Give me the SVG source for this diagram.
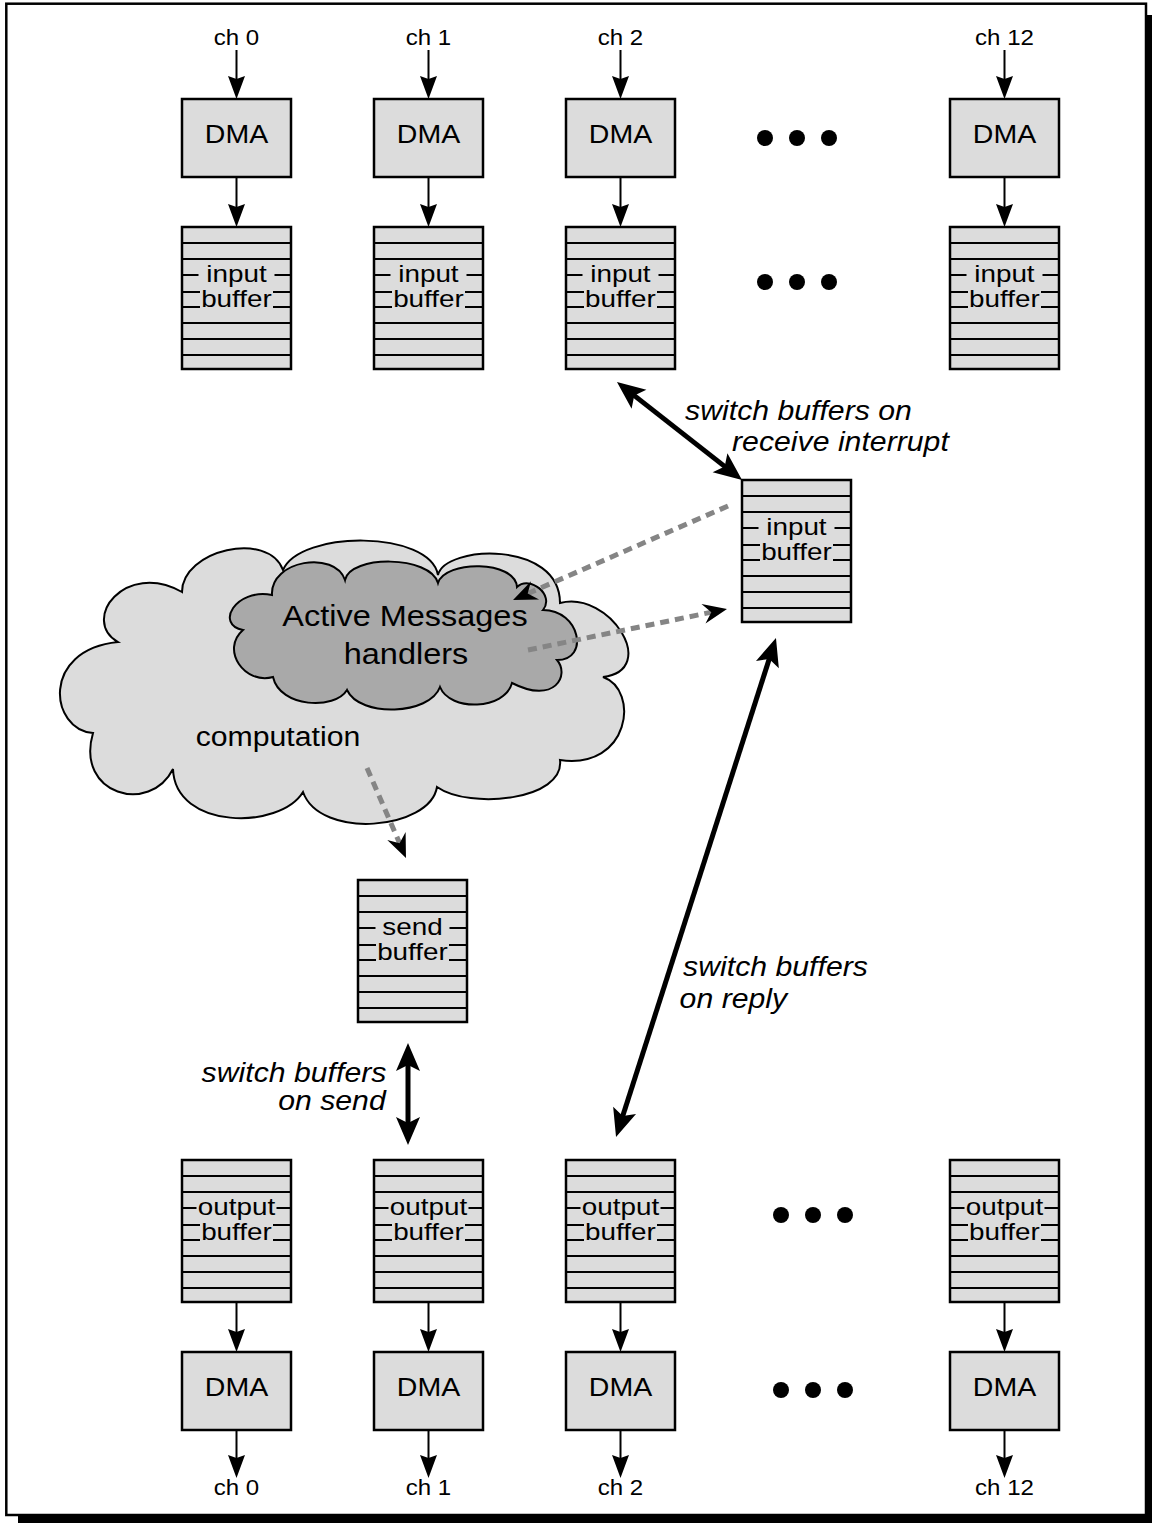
<svg xmlns="http://www.w3.org/2000/svg" xmlns:xlink="http://www.w3.org/1999/xlink" width="1152" height="1523" viewBox="0 0 1152 1523">
  <style>
    text { font-family: "Liberation Sans", Arial, Helvetica, sans-serif; fill: #000; text-anchor: middle;
           transform-box: fill-box; transform-origin: center; transform: scaleX(1.12); }
    .ch { font-size: 21.5px; }
    .dma { font-size: 25.5px; }
    .bl { font-size: 24px; transform: scaleX(1.16); }
    .it { font-size: 27px; font-style: italic; }
    .cl { font-size: 29px; }
    .cp { font-size: 27px; }
    .box { fill: #dcdcdc; stroke: #000; stroke-width: 2.5; }
    .rule { fill: none; stroke: #000; stroke-width: 2; }
    .lblbg { fill: #dcdcdc; stroke: none; }
    .thin { fill: none; stroke: #000; stroke-width: 2; marker-end: url(#ah); }
    .thick { fill: none; stroke: #000; stroke-width: 5; marker-start: url(#ahBig); marker-end: url(#ahBig); }
    .dash { fill: none; stroke: #858585; stroke-width: 5; stroke-dasharray: 9 6; marker-end: url(#ahDash); }
    .dot { fill: #000; }
  </style>
  <defs>
    <marker id="ah" markerUnits="userSpaceOnUse" viewBox="-20 -10 28 20" refX="0" refY="0" markerWidth="28" markerHeight="20" orient="auto" overflow="visible">
      <path d="M6,0 L-17,-8.5 L-14,0 L-17,8.5 Z" fill="#000"/>
    </marker>
    <marker id="ahBig" markerUnits="userSpaceOnUse" viewBox="-20 -14 34 28" refX="0" refY="0" markerWidth="34" markerHeight="28" orient="auto-start-reverse" overflow="visible">
      <path d="M12,0 L-16,-12 L-10,0 L-16,12 Z" fill="#000"/>
    </marker>
    <marker id="ahDash" markerUnits="userSpaceOnUse" viewBox="-16 -12 28 24" refX="0" refY="0" markerWidth="28" markerHeight="24" orient="auto" overflow="visible">
      <path d="M10,0 L-14,-10 L-6,0 L-14,10 Z" fill="#000"/>
    </marker>
    <!-- striped buffer body, 109 x 142 -->
    <g id="bufgrid">
      <rect class="box" x="0" y="0" width="109" height="142"/>
      <path class="rule" d="M1,16H108M1,32H108M1,48H108M1,65H108M1,80H108M1,96H108M1,112H108M1,128H108"/>
    </g>
    <rect id="dmabox" class="box" x="0" y="0" width="109" height="78"/>
  </defs>

  <!-- page frame with drop shadow -->
  <rect x="0" y="0" width="1152" height="1523" fill="#fff"/>
  <rect x="18" y="15" width="1140" height="1520" fill="#000"/>
  <rect x="6.3" y="3.7" width="1139.7" height="1511.3" fill="#fff" stroke="#000" stroke-width="2.5"/>

  <!-- receive side: DMA engines -->
  <g id="dma-in-0"><use xlink:href="#dmabox" x="182" y="99"/><text class="dma" x="236.5" y="143">DMA</text></g>
  <g id="dma-in-1"><use xlink:href="#dmabox" x="374" y="99"/><text class="dma" x="428.5" y="143">DMA</text></g>
  <g id="dma-in-2"><use xlink:href="#dmabox" x="566" y="99"/><text class="dma" x="620.5" y="143">DMA</text></g>
  <g id="dma-in-12"><use xlink:href="#dmabox" x="950" y="99"/><text class="dma" x="1004.5" y="143">DMA</text></g>

  <!-- receive side: input buffers -->
  <g id="ibuf-0">
    <use xlink:href="#bufgrid" x="182" y="227"/>
    <rect class="lblbg" x="198.5" y="262" width="76" height="25"/><rect class="lblbg" x="200" y="288" width="73" height="23"/>
    <text class="bl" x="236.5" y="282">input</text><text class="bl" x="236.5" y="307">buffer</text>
  </g>
  <g id="ibuf-1">
    <use xlink:href="#bufgrid" x="374" y="227"/>
    <rect class="lblbg" x="390.5" y="262" width="76" height="25"/><rect class="lblbg" x="392" y="288" width="73" height="23"/>
    <text class="bl" x="428.5" y="282">input</text><text class="bl" x="428.5" y="307">buffer</text>
  </g>
  <g id="ibuf-2">
    <use xlink:href="#bufgrid" x="566" y="227"/>
    <rect class="lblbg" x="582.5" y="262" width="76" height="25"/><rect class="lblbg" x="584" y="288" width="73" height="23"/>
    <text class="bl" x="620.5" y="282">input</text><text class="bl" x="620.5" y="307">buffer</text>
  </g>
  <g id="ibuf-12">
    <use xlink:href="#bufgrid" x="950" y="227"/>
    <rect class="lblbg" x="966.5" y="262" width="76" height="25"/><rect class="lblbg" x="968" y="288" width="73" height="23"/>
    <text class="bl" x="1004.5" y="282">input</text><text class="bl" x="1004.5" y="307">buffer</text>
  </g>

  <g id="dots-top" class="dot">
    <circle cx="765" cy="138" r="8"/><circle cx="797" cy="138" r="8"/><circle cx="829" cy="138" r="8"/>
    <circle cx="765" cy="282" r="8"/><circle cx="797" cy="282" r="8"/><circle cx="829" cy="282" r="8"/>
  </g>

  <!-- current input buffer handed to the handlers -->
  <g id="ibuf-active">
    <use xlink:href="#bufgrid" x="742" y="480"/>
    <rect class="lblbg" x="758.5" y="515" width="76" height="25"/><rect class="lblbg" x="760" y="541" width="73" height="23"/>
    <text class="bl" x="796.5" y="535">input</text><text class="bl" x="796.5" y="560">buffer</text>
  </g>

  <!-- computation cloud with the handler cloud inside it -->
  <g id="cloud-computation">
    <path fill="#dcdcdc" stroke="#000" stroke-width="2"
      d="M118,642 C80,620 125,560 182,592 C182,550 268,530 283,570 C300,530 430,530 438,575
         C445,545 560,540 560,603 C610,590 660,670 603,677 C640,690 630,770 560,760
         C565,800 470,810 437,787 C430,830 320,840 303,792 C280,830 175,830 173,769
         C150,815 75,795 93,733 C50,730 40,650 118,642 Z"/>
    <text class="cp" x="278" y="746">computation</text>
  </g>
  <g id="cloud-handlers">
    <path fill="#a9a9a9" stroke="#000" stroke-width="2"
      d="M243,630 C215,625 235,588 272,595 C270,560 335,550 345,580 C350,555 430,555 438,583
         C445,560 515,560 517,587 C530,575 555,595 543,610 C580,610 590,660 557,660
         C570,675 555,705 512,683 C505,710 450,712 440,687 C430,715 360,718 347,690
         C335,710 280,708 273,677 C245,685 220,650 243,630 Z"/>
    <text class="cl" x="405" y="626">Active Messages</text>
    <text class="cl" x="406" y="664">handlers</text>
  </g>

  <!-- send buffer -->
  <g id="sbuf">
    <use xlink:href="#bufgrid" x="358" y="880"/>
    <rect class="lblbg" x="375.5" y="915" width="74" height="25"/><rect class="lblbg" x="376" y="941" width="73" height="23"/>
    <text class="bl" x="412.5" y="935">send</text><text class="bl" x="412.5" y="960">buffer</text>
  </g>

  <!-- transmit side: output buffers -->
  <g id="obuf-0">
    <use xlink:href="#bufgrid" x="182" y="1160"/>
    <rect class="lblbg" x="196.5" y="1195" width="80" height="25"/><rect class="lblbg" x="200" y="1221" width="73" height="23"/>
    <text class="bl" x="236.5" y="1215">output</text><text class="bl" x="236.5" y="1240">buffer</text>
  </g>
  <g id="obuf-1">
    <use xlink:href="#bufgrid" x="374" y="1160"/>
    <rect class="lblbg" x="388.5" y="1195" width="80" height="25"/><rect class="lblbg" x="392" y="1221" width="73" height="23"/>
    <text class="bl" x="428.5" y="1215">output</text><text class="bl" x="428.5" y="1240">buffer</text>
  </g>
  <g id="obuf-2">
    <use xlink:href="#bufgrid" x="566" y="1160"/>
    <rect class="lblbg" x="580.5" y="1195" width="80" height="25"/><rect class="lblbg" x="584" y="1221" width="73" height="23"/>
    <text class="bl" x="620.5" y="1215">output</text><text class="bl" x="620.5" y="1240">buffer</text>
  </g>
  <g id="obuf-12">
    <use xlink:href="#bufgrid" x="950" y="1160"/>
    <rect class="lblbg" x="964.5" y="1195" width="80" height="25"/><rect class="lblbg" x="968" y="1221" width="73" height="23"/>
    <text class="bl" x="1004.5" y="1215">output</text><text class="bl" x="1004.5" y="1240">buffer</text>
  </g>

  <!-- transmit side: DMA engines -->
  <g id="dma-out-0"><use xlink:href="#dmabox" x="182" y="1352"/><text class="dma" x="236.5" y="1396">DMA</text></g>
  <g id="dma-out-1"><use xlink:href="#dmabox" x="374" y="1352"/><text class="dma" x="428.5" y="1396">DMA</text></g>
  <g id="dma-out-2"><use xlink:href="#dmabox" x="566" y="1352"/><text class="dma" x="620.5" y="1396">DMA</text></g>
  <g id="dma-out-12"><use xlink:href="#dmabox" x="950" y="1352"/><text class="dma" x="1004.5" y="1396">DMA</text></g>

  <g id="dots-bottom" class="dot">
    <circle cx="781" cy="1215" r="8"/><circle cx="813" cy="1215" r="8"/><circle cx="845" cy="1215" r="8"/>
    <circle cx="781" cy="1390" r="8"/><circle cx="813" cy="1390" r="8"/><circle cx="845" cy="1390" r="8"/>
  </g>

  <!-- channel labels -->
  <g id="channels">
    <text class="ch" x="236.5" y="45">ch 0</text>
    <text class="ch" x="428.5" y="45">ch 1</text>
    <text class="ch" x="620.5" y="45">ch 2</text>
    <text class="ch" x="1004.5" y="45">ch 12</text>
    <text class="ch" x="236.5" y="1495">ch 0</text>
    <text class="ch" x="428.5" y="1495">ch 1</text>
    <text class="ch" x="620.5" y="1495">ch 2</text>
    <text class="ch" x="1004.5" y="1495">ch 12</text>
  </g>

  <!-- connectors -->
  <g id="connectors">
    <!-- channel -> DMA -> input buffer -->
    <path class="thin" d="M236.5,50V93"/><path class="thin" d="M236.5,177V221"/>
    <path class="thin" d="M428.5,50V93"/><path class="thin" d="M428.5,177V221"/>
    <path class="thin" d="M620.5,50V93"/><path class="thin" d="M620.5,177V221"/>
    <path class="thin" d="M1004.5,50V93"/><path class="thin" d="M1004.5,177V221"/>
    <!-- output buffer -> DMA -> channel -->
    <path class="thin" d="M236.5,1302V1346"/><path class="thin" d="M236.5,1430V1472"/>
    <path class="thin" d="M428.5,1302V1346"/><path class="thin" d="M428.5,1430V1472"/>
    <path class="thin" d="M620.5,1302V1346"/><path class="thin" d="M620.5,1430V1472"/>
    <path class="thin" d="M1004.5,1302V1346"/><path class="thin" d="M1004.5,1430V1472"/>

    <!-- buffer switches -->
    <path class="thick" d="M626.4,389.4L732.6,472.6"/>
    <path class="thick" d="M772.3,649.4L619.7,1125.6"/>
    <path class="thick" d="M408,1055V1133"/>

    <!-- handler traffic -->
    <path class="dash" d="M728,506L522.2,596"/>
    <path class="dash" d="M528,650L717.2,611"/>
    <path class="dash" d="M367,768L402,848.8"/>

    <text class="it" x="798.5" y="420">switch buffers on</text>
    <text class="it" x="840.5" y="451">receive interrupt</text>
    <text class="it" x="775.5" y="976">switch buffers</text>
    <text class="it" x="733.5" y="1008">on reply</text>
    <text class="it" x="294" y="1082">switch buffers</text>
    <text class="it" x="332" y="1110">on send</text>
  </g>
</svg>
